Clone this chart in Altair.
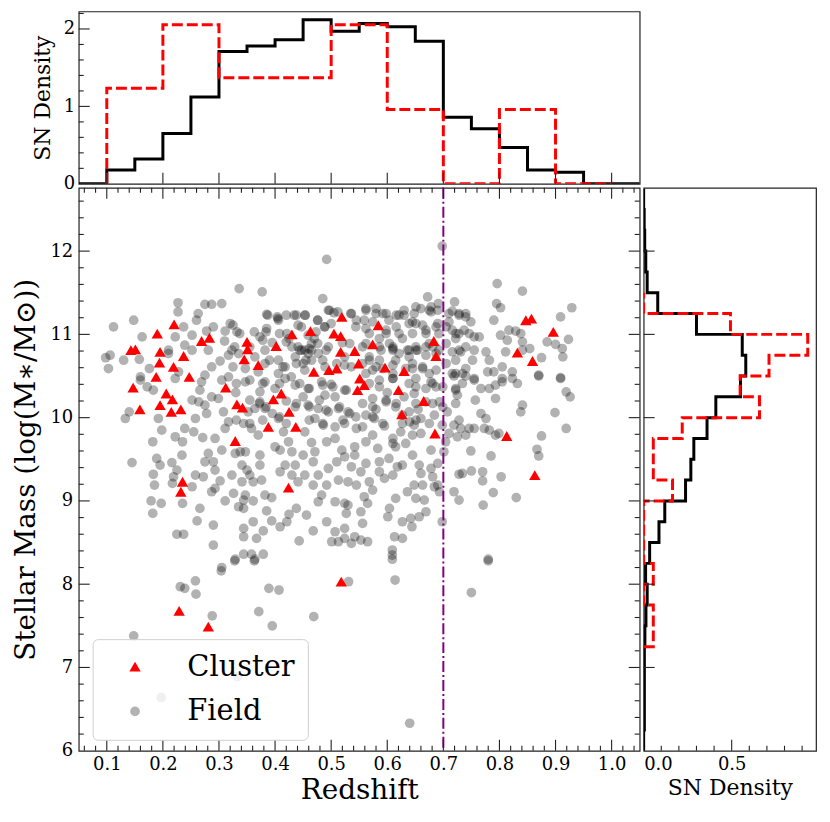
import altair as alt
import pandas as pd

FONT = "DejaVu Serif"

# ---------------- scatter data (redshift, log stellar mass) ----------------
field_upper_left = [
    (0.492, 11.90), (0.336, 11.55), (0.377, 11.51), (0.485, 11.43), (0.227, 11.38), (0.227, 11.27),
    (0.275, 11.36), (0.287, 11.36), (0.305, 11.37), (0.495, 11.29), (0.505, 11.26), (0.385, 11.24),
    (0.404, 11.21), (0.434, 11.23), (0.453, 11.23), (0.476, 11.17), (0.536, 11.25), (0.263, 11.25),
    (0.260, 11.17), (0.148, 11.17), (0.112, 11.09), (0.163, 10.97), (0.237, 11.09), (0.222, 10.97),
    (0.290, 11.09), (0.320, 11.13), (0.332, 11.03), (0.311, 11.04), (0.252, 10.99), (0.278, 11.04),
    (0.239, 10.87), (0.252, 10.81), (0.281, 10.81), (0.310, 10.92), (0.323, 10.81), (0.373, 10.97),
    (0.385, 11.07), (0.406, 11.17), (0.421, 11.01), (0.441, 11.11), (0.459, 10.99), (0.489, 11.09),
    (0.500, 11.13), (0.545, 11.17), (0.210, 10.81), (0.106, 10.75), (0.130, 10.69), (0.103, 10.59),
    (0.158, 10.70), (0.176, 10.59), (0.210, 10.77), (0.302, 10.68), (0.317, 10.75), (0.335, 10.77),
    (0.364, 10.73), (0.382, 10.81), (0.406, 10.69), (0.430, 10.85), (0.453, 10.81), (0.465, 10.89),
    (0.477, 10.77), (0.495, 10.85), (0.436, 10.73), (0.418, 10.61), (0.382, 10.65), (0.347, 10.59),
    (0.287, 10.61), (0.275, 10.51), (0.160, 10.49), (0.228, 10.55), (0.317, 10.49), (0.406, 10.53),
    (0.453, 10.57), (0.489, 10.61), (0.524, 10.73), (0.536, 10.61), (0.465, 10.69), (0.447, 10.81),
    (0.459, 10.77), (0.441, 10.85), (0.465, 10.81), (0.098, 10.72), (0.470, 10.95), (0.520, 10.90),
    (0.395, 10.90), (0.355, 10.85), (0.425, 10.95), (0.510, 10.65), (0.450, 10.65), (0.370, 10.55),
]

field_upper_right = [
    (0.698, 12.06), (0.796, 11.61), (0.841, 11.52), (0.929, 11.32), (0.909, 11.21), (0.795, 11.37),
    (0.802, 11.32), (0.790, 11.17), (0.672, 11.45), (0.678, 11.33), (0.691, 11.37), (0.678, 11.27),
    (0.720, 11.39), (0.716, 11.28), (0.728, 11.25), (0.740, 11.21), (0.749, 11.15), (0.710, 11.15),
    (0.716, 11.05), (0.728, 11.01), (0.746, 11.01), (0.755, 10.97), (0.764, 10.97), (0.722, 10.95),
    (0.651, 11.33), (0.630, 11.29), (0.621, 11.23), (0.592, 11.25), (0.580, 11.31), (0.562, 11.31),
    (0.559, 11.17), (0.574, 11.15), (0.603, 11.17), (0.645, 11.15), (0.663, 11.11), (0.690, 11.13),
    (0.692, 11.01), (0.669, 11.01), (0.645, 11.01), (0.621, 11.01), (0.598, 11.01), (0.568, 11.01),
    (0.562, 10.89), (0.586, 10.85), (0.610, 10.81), (0.627, 10.95), (0.654, 10.81), (0.675, 10.89),
    (0.692, 10.81), (0.669, 10.75), (0.639, 10.73), (0.615, 10.69), (0.586, 10.69), (0.568, 10.73),
    (0.574, 10.57), (0.610, 10.53), (0.645, 10.59), (0.675, 10.53), (0.687, 10.57), (0.716, 10.53),
    (0.716, 10.79), (0.731, 10.79), (0.722, 10.69), (0.755, 10.81), (0.752, 10.69), (0.740, 10.59),
    (0.776, 10.79), (0.782, 10.69), (0.779, 10.55), (0.790, 10.55), (0.805, 10.61), (0.823, 10.55),
    (0.817, 11.05), (0.829, 11.04), (0.838, 11.01), (0.841, 10.91), (0.841, 10.81), (0.814, 10.93),
    (0.802, 10.99), (0.811, 10.79), (0.854, 10.83), (0.875, 10.72), (0.885, 10.91), (0.900, 10.88),
    (0.912, 10.83), (0.923, 10.94), (0.913, 10.73), (0.909, 10.48), (0.870, 10.51), (0.755, 10.47),
    (0.805, 10.47), (0.610, 10.85), (0.604, 10.89), (0.639, 10.81), (0.651, 10.85), (0.681, 10.85),
    (0.687, 10.77), (0.621, 10.77), (0.586, 10.95), (0.663, 10.59), (0.633, 10.59), (0.592, 10.59),
    (0.556, 10.65), (0.562, 10.53),
]

field_core = [
    (0.387, 11.23), (0.405, 11.19), (0.420, 11.23), (0.438, 11.23), (0.454, 11.23), (0.476, 11.17),
    (0.497, 11.29), (0.512, 11.27), (0.535, 11.25), (0.562, 11.29), (0.580, 11.25), (0.598, 11.25),
    (0.616, 11.23), (0.630, 11.23), (0.648, 11.25), (0.660, 11.31), (0.675, 11.29), (0.690, 11.29),
    (0.710, 11.25), (0.728, 11.23), (0.740, 11.25),
    (0.325, 11.11), (0.337, 11.01), (0.363, 11.03), (0.384, 11.03), (0.408, 11.01), (0.447, 11.09),
    (0.473, 11.03), (0.488, 11.09), (0.544, 11.09), (0.562, 11.07), (0.598, 11.05), (0.616, 11.09),
    (0.639, 11.13), (0.651, 11.13), (0.669, 11.05), (0.687, 11.09), (0.705, 11.09), (0.722, 11.01),
    (0.737, 11.05),
    (0.328, 10.85), (0.378, 10.93), (0.420, 10.91), (0.444, 10.81), (0.461, 10.83), (0.476, 10.89),
    (0.491, 10.81), (0.533, 10.89), (0.556, 10.85), (0.589, 10.81), (0.610, 10.83), (0.636, 10.81),
    (0.651, 10.81), (0.669, 10.85), (0.705, 10.89), (0.728, 10.81), (0.740, 10.85),
    (0.325, 10.61), (0.390, 10.69), (0.414, 10.61), (0.438, 10.65), (0.455, 10.69), (0.485, 10.69),
    (0.524, 10.63), (0.568, 10.69), (0.580, 10.61), (0.610, 10.63), (0.645, 10.65), (0.663, 10.61),
    (0.705, 10.65), (0.722, 10.53), (0.734, 10.53),
    (0.331, 10.41), (0.355, 10.45), (0.378, 10.41), (0.408, 10.41), (0.429, 10.49), (0.444, 10.41),
    (0.461, 10.35), (0.485, 10.39), (0.503, 10.37), (0.527, 10.33), (0.568, 10.41), (0.586, 10.37),
    (0.610, 10.47), (0.639, 10.41), (0.651, 10.37), (0.681, 10.41), (0.699, 10.37), (0.722, 10.33),
    (0.355, 10.21), (0.372, 10.17), (0.384, 10.13), (0.438, 10.17), (0.461, 10.13), (0.479, 10.21),
    (0.491, 10.09), (0.515, 10.13), (0.533, 10.05), (0.556, 10.17), (0.574, 10.13), (0.598, 10.21),
    (0.616, 10.17), (0.651, 10.17), (0.681, 10.17), (0.699, 10.13), (0.722, 10.17),
    (0.331, 9.97), (0.355, 9.93), (0.378, 9.97), (0.408, 10.01), (0.420, 9.93), (0.461, 9.97),
    (0.485, 9.93), (0.521, 9.97), (0.544, 10.01), (0.574, 10.01), (0.592, 9.93), (0.627, 9.93),
    (0.651, 9.97), (0.675, 9.93), (0.728, 9.97),
]

field_lower_left = [
    (0.133, 9.99), (0.140, 10.07), (0.145, 9.46), (0.160, 10.45), (0.172, 10.37), (0.183, 10.33),
    (0.192, 9.99), (0.198, 9.85), (0.182, 9.71), (0.189, 9.51), (0.195, 9.43), (0.183, 9.32),
    (0.185, 9.19), (0.179, 9.00), (0.182, 8.85), (0.197, 8.97), (0.222, 9.77), (0.235, 9.71),
    (0.239, 9.87), (0.234, 9.55), (0.216, 9.46), (0.225, 9.37), (0.219, 9.29), (0.217, 9.21),
    (0.235, 8.97), (0.225, 8.60), (0.237, 8.60), (0.252, 9.17), (0.258, 9.31), (0.272, 9.29),
    (0.255, 9.83), (0.258, 9.99), (0.271, 9.76), (0.252, 10.21), (0.266, 10.33), (0.264, 10.19),
    (0.278, 10.05), (0.275, 10.15), (0.287, 10.25), (0.299, 10.23), (0.308, 10.07), (0.317, 9.95),
    (0.311, 9.87), (0.293, 9.75), (0.305, 9.61), (0.281, 9.57), (0.290, 9.47), (0.275, 9.47),
    (0.293, 9.37), (0.302, 9.24), (0.287, 9.11), (0.293, 9.15), (0.266, 8.91), (0.261, 8.76),
    (0.290, 8.71), (0.290, 8.47), (0.311, 9.00), (0.323, 9.31), (0.326, 9.09), (0.329, 9.57),
    (0.338, 9.59), (0.347, 9.59), (0.341, 9.43), (0.350, 9.37), (0.355, 9.31), (0.361, 9.23),
    (0.341, 9.23), (0.347, 9.07), (0.344, 9.01), (0.335, 8.93), (0.344, 8.91), (0.361, 9.00),
    (0.361, 8.75), (0.379, 8.64), (0.367, 8.55), (0.344, 8.67), (0.344, 8.57), (0.329, 8.30),
    (0.344, 8.36), (0.358, 8.36), (0.364, 8.30), (0.379, 8.36), (0.305, 8.20), (0.373, 9.43),
    (0.376, 9.25), (0.382, 9.07), (0.394, 9.04), (0.385, 8.88), (0.394, 8.76), (0.409, 8.69),
    (0.421, 8.75), (0.425, 8.84), (0.438, 8.91), (0.456, 8.83), (0.443, 8.52), (0.468, 8.64),
    (0.492, 8.75), (0.507, 8.63), (0.524, 8.67), (0.524, 8.55), (0.536, 8.49), (0.513, 8.51),
    (0.501, 8.51), (0.542, 8.57), (0.373, 9.55), (0.370, 9.79), (0.358, 9.87), (0.344, 9.93),
    (0.352, 10.07), (0.364, 10.11), (0.373, 10.19), (0.382, 10.11), (0.406, 9.99), (0.415, 9.83),
    (0.400, 9.65), (0.409, 9.61), (0.424, 9.71), (0.430, 9.59), (0.450, 9.55), (0.436, 9.43),
    (0.418, 9.43), (0.409, 9.35), (0.430, 9.31), (0.441, 9.23), (0.453, 9.31), (0.468, 9.19),
    (0.477, 9.31), (0.492, 9.19), (0.483, 9.07), (0.477, 8.99), (0.507, 8.99), (0.524, 8.97),
    (0.527, 8.85), (0.530, 8.95), (0.495, 9.39), (0.510, 9.47), (0.524, 9.53), (0.536, 9.41),
    (0.513, 9.25), (0.530, 9.23), (0.545, 9.19), (0.468, 9.47), (0.471, 9.59), (0.492, 9.71),
    (0.507, 9.75), (0.519, 9.61), (0.542, 9.65), (0.542, 9.55), (0.507, 9.89), (0.524, 9.93),
    (0.545, 9.87), (0.486, 9.91), (0.471, 9.99), (0.453, 9.83), (0.436, 10.13), (0.459, 10.15),
    (0.477, 10.11), (0.495, 10.07), (0.513, 10.11), (0.530, 10.07), (0.489, 10.27), (0.507, 10.25),
    (0.524, 10.33), (0.459, 10.35), (0.436, 10.39), (0.382, 10.43), (0.347, 10.43), (0.305, 10.45),
    (0.269, 10.43), (0.222, 10.47), (0.418, 10.47), (0.483, 10.43), (0.373, 10.31), (0.400, 10.35),
    (0.330, 10.30), (0.420, 10.20), (0.500, 10.40), (0.450, 10.25), (0.395, 10.05), (0.465, 9.70),
]

field_lower_right = [
    (0.562, 9.45), (0.553, 9.35), (0.568, 9.23), (0.574, 9.13), (0.559, 9.05), (0.565, 8.97),
    (0.553, 8.87), (0.556, 8.73), (0.553, 8.53), (0.565, 8.51), (0.609, 8.41), (0.609, 8.35),
    (0.613, 8.57), (0.627, 8.55), (0.601, 8.81), (0.604, 8.91), (0.627, 8.75), (0.644, 8.69),
    (0.642, 8.79), (0.657, 8.81), (0.669, 8.87), (0.698, 8.75), (0.615, 9.03), (0.636, 9.11),
    (0.651, 9.03), (0.666, 9.01), (0.648, 9.19), (0.663, 9.19), (0.660, 9.33), (0.657, 9.43),
    (0.678, 9.39), (0.681, 9.29), (0.690, 9.19), (0.693, 9.11), (0.684, 9.17), (0.690, 9.45),
    (0.678, 9.61), (0.645, 9.55), (0.627, 9.43), (0.618, 9.41), (0.610, 9.31), (0.595, 9.27),
    (0.586, 9.35), (0.586, 9.47), (0.603, 9.51), (0.583, 9.63), (0.562, 9.71), (0.574, 9.79),
    (0.610, 9.75), (0.624, 9.83), (0.645, 9.79), (0.660, 9.81), (0.648, 9.91), (0.660, 9.99),
    (0.639, 10.07), (0.615, 10.13), (0.598, 10.19), (0.574, 10.23), (0.562, 10.03), (0.577, 9.99),
    (0.556, 9.89), (0.610, 9.69), (0.615, 9.65), (0.633, 9.69), (0.627, 10.03), (0.586, 10.45),
    (0.610, 10.47), (0.651, 10.47), (0.678, 10.43), (0.687, 10.37), (0.669, 10.35), (0.648, 10.29),
    (0.669, 10.19), (0.693, 10.19), (0.707, 10.07), (0.684, 10.03), (0.698, 9.91), (0.704, 9.71),
    (0.701, 9.59), (0.719, 10.50), (0.734, 10.41), (0.725, 10.27), (0.722, 10.35), (0.755, 10.45),
    (0.740, 10.50), (0.767, 10.35), (0.782, 10.35), (0.793, 10.39), (0.805, 10.43), (0.823, 10.47),
    (0.832, 10.41), (0.793, 10.23), (0.757, 10.21), (0.838, 10.07), (0.841, 10.15), (0.870, 10.50),
    (0.909, 10.47), (0.919, 10.31), (0.926, 10.25), (0.899, 10.06), (0.919, 9.87), (0.875, 9.78),
    (0.867, 9.62), (0.870, 9.54), (0.767, 10.05), (0.776, 9.99), (0.719, 9.91), (0.731, 9.87),
    (0.746, 9.87), (0.755, 9.87), (0.740, 9.79), (0.725, 9.77), (0.710, 9.81), (0.773, 9.87),
    (0.782, 9.85), (0.793, 9.79), (0.799, 9.81), (0.749, 9.60), (0.785, 9.54), (0.734, 9.33),
    (0.728, 9.32), (0.750, 9.36), (0.770, 9.35), (0.770, 9.24), (0.803, 9.29), (0.719, 9.11),
    (0.728, 9.01), (0.789, 9.10), (0.830, 9.04), (0.771, 8.95), (0.780, 8.30), (0.600, 10.30),
    (0.630, 10.25), (0.580, 10.10), (0.655, 10.10), (0.595, 9.90), (0.640, 9.95),
]

field_sparse = [
    (0.304, 8.16), (0.328, 8.28), (0.363, 8.28), (0.231, 7.97), (0.239, 7.95), (0.258, 8.04),
    (0.259, 7.88), (0.389, 7.95), (0.407, 7.93), (0.531, 8.03), (0.614, 8.05), (0.780, 8.28),
    (0.750, 7.90), (0.288, 7.62), (0.371, 7.67), (0.395, 7.50), (0.469, 7.61), (0.148, 7.38),
    (0.333, 6.89), (0.197, 6.64), (0.640, 6.33), (0.609, 8.30),
]

cluster_points = [
    (0.190, 11.01), (0.220, 11.12), (0.151, 10.82), (0.143, 10.81), (0.195, 10.79), (0.194, 10.66),
    (0.219, 10.61), (0.237, 10.74), (0.269, 10.92), (0.283, 10.96), (0.350, 10.91), (0.351, 10.82),
    (0.345, 10.70), (0.370, 10.63), (0.402, 10.86), (0.430, 11.00), (0.463, 11.04), (0.505, 11.01),
    (0.519, 11.21), (0.517, 10.98), (0.517, 10.79), (0.542, 10.80), (0.549, 10.65), (0.469, 10.55),
    (0.496, 10.57), (0.510, 10.59), (0.188, 10.49), (0.247, 10.49), (0.584, 11.11), (0.574, 10.88),
    (0.596, 10.60), (0.630, 10.56), (0.683, 10.92), (0.687, 10.74), (0.551, 10.47), (0.847, 11.17),
    (0.857, 11.19), (0.896, 11.03), (0.832, 10.78), (0.859, 10.68), (0.147, 10.36), (0.159, 10.10),
    (0.206, 10.29), (0.217, 10.22), (0.195, 10.15), (0.215, 10.07), (0.232, 10.10), (0.312, 10.36),
    (0.332, 10.16), (0.342, 10.12), (0.397, 10.22), (0.411, 10.29), (0.425, 10.07), (0.388, 9.89),
    (0.437, 9.89), (0.329, 9.72), (0.235, 9.23), (0.232, 9.11), (0.424, 9.16), (0.547, 10.33),
    (0.559, 10.39), (0.620, 10.33), (0.665, 10.20), (0.626, 10.04), (0.685, 9.81), (0.813, 9.78),
    (0.863, 9.31), (0.518, 8.03), (0.229, 7.68), (0.281, 7.49),
]

redshift_cut = [0.7]
legend_labels = ["Cluster", "Field"]

# ---------------- histograms (SN density) ----------------
z_edges_field = [0.05, 0.10, 0.15, 0.20, 0.25, 0.30, 0.35, 0.40, 0.45, 0.50, 0.55, 0.60,
                 0.65, 0.70, 0.75, 0.80, 0.85, 0.90, 0.95, 1.05]
z_density_field = [0.0, 0.18, 0.32, 0.65, 1.12, 1.71, 1.78, 1.86, 2.12, 1.97, 2.07, 2.03,
                   1.84, 0.86, 0.71, 0.47, 0.18, 0.15, 0.0]
z_edges_cluster = [0.1, 0.2, 0.3, 0.4, 0.5, 0.6, 0.7, 0.8, 0.9, 1.0]
z_density_cluster = [1.233, 2.055, 1.370, 1.370, 2.055, 0.959, 0.0, 0.959, 0.0]

m_edges_field = [6.0, 6.25, 6.5, 6.75, 7.0, 7.25, 7.5, 7.75, 8.0, 8.25, 8.5, 8.75, 9.0, 9.25,
                 9.5, 9.75, 10.0, 10.25, 10.5, 10.75, 11.0, 11.25, 11.5, 11.75, 12.0, 12.25,
                 12.5, 12.75]
m_density_field = [0.0, 0.004, 0.004, 0.004, 0.004, 0.007, 0.013, 0.02, 0.011, 0.034, 0.087,
                   0.12, 0.238, 0.268, 0.285, 0.36, 0.41, 0.55, 0.58, 0.56, 0.30, 0.08, 0.02,
                   0.012, 0.006, 0.003, 0.0]
m_edges_cluster = [7.25, 7.5, 7.75, 8.0, 8.25, 8.5, 8.75, 9.0, 9.25, 9.5, 9.75, 10.0, 10.25,
                   10.5, 10.75, 11.0, 11.25, 11.5]
m_density_cluster = [0.0548, 0.0548, 0.0, 0.0548, 0.0, 0.0, 0.0, 0.164, 0.0548, 0.0548, 0.219,
                     0.658, 0.548, 0.712, 0.932, 0.493, 0.0]

# ---------------- tick positions ----------------
z_major_ticks = [0.1, 0.2, 0.3, 0.4, 0.5, 0.6, 0.7, 0.8, 0.9, 1.0]
z_minor_ticks = [round(0.06 + 0.02 * i, 2) for i in range(50)]
z_minor_ticks = [v for v in z_minor_ticks if abs(v * 10 - round(v * 10)) > 1e-6]
m_major_ticks = [7, 8, 9, 10, 11, 12]
m_minor_ticks = [round(6.2 + 0.2 * i, 1) for i in range(33)]
m_minor_ticks = [v for v in m_minor_ticks if abs(v - round(v)) > 1e-6]
top_major_ticks = [1.0, 2.0]
top_minor_ticks = [0.2, 0.4, 0.6, 0.8, 1.2, 1.4, 1.6, 1.8, 2.2]
right_major_ticks = [0.5]
right_minor_ticks = [0.1, 0.2, 0.3, 0.4, 0.6, 0.7, 0.8, 0.9]


def pts_frame(kind, *groups):
    rows = []
    for g in groups:
        rows.extend(g)
    df = pd.DataFrame(rows, columns=["z", "m"])
    df["type"] = kind
    return df


def step_frame(edges, vals):
    rows = [(edges[0], 0.0)]
    for i, v in enumerate(vals):
        rows.append((edges[i], v))
        rows.append((edges[i + 1], v))
    rows.append((edges[-1], 0.0))
    df = pd.DataFrame(rows, columns=["edge", "val"])
    df["order"] = range(len(df))
    return df


points_df = pd.concat([
    pts_frame("Field", field_upper_left, field_upper_right, field_core, field_lower_left,
              field_lower_right, field_sparse),
    pts_frame("Cluster", cluster_points),
], ignore_index=True)
points_df["draw"] = range(len(points_df))
cut_df = pd.DataFrame({"z": redshift_cut})

top_field = step_frame(z_edges_field, z_density_field)
top_cluster = step_frame(z_edges_cluster, z_density_cluster)
right_field = step_frame(m_edges_field, m_density_field)
right_cluster = step_frame(m_edges_cluster, m_density_cluster)

# ---------------- layout sizes ----------------
W, H = 563, 565
TOP_H = 173
RIGHT_W = 173
TICK = "#222222"
MAJOR, MINOR = 11, 5

x_scale = alt.Scale(domain=[0.05, 1.05], nice=False, zero=False)
y_scale = alt.Scale(domain=[6.0, 12.76], nice=False, zero=False)
top_scale = alt.Scale(domain=[0.0, 2.226], nice=False, zero=False)
right_scale = alt.Scale(domain=[0.0, 0.979], nice=False, zero=False)


def pos(channel, field, scale, hide_axis):
    kw = {"scale": scale}
    if hide_axis:
        kw["axis"] = None
    return channel(field, **kw)


def x_ticks(values, scale, y0, y1, hide_axis=False):
    """Inward tick segments at x-positions given by the scale."""
    return alt.Chart(pd.DataFrame({"v": values})).mark_rule(color=TICK, strokeWidth=1.1).encode(
        x=pos(alt.X, "v:Q", scale, hide_axis), y=alt.value(y0), y2=alt.value(y1))


def y_ticks(values, scale, x0, x1, hide_axis=False):
    """Inward tick segments at y-positions given by the scale."""
    return alt.Chart(pd.DataFrame({"v": values})).mark_rule(color=TICK, strokeWidth=1.1).encode(
        y=pos(alt.Y, "v:Q", scale, hide_axis), x=alt.value(x0), x2=alt.value(x1))


# ---------------- main scatter panel ----------------
points_layer = alt.Chart(points_df).mark_point(filled=True, strokeWidth=0).encode(
    x=alt.X("z:Q", scale=x_scale, axis=alt.Axis(
        orient="bottom", values=z_major_ticks, format=".1f",
        ticks=False, tickSize=0, domain=False, grid=False, labelPadding=5, labelFontSize=18,
        title="Redshift", titleFontSize=28, titlePadding=3)),
    y=alt.Y("m:Q", scale=y_scale, axis=alt.Axis(
        orient="left", values=[6, 7, 8, 9, 10, 11, 12], format="d",
        ticks=False, tickSize=0, domain=False, grid=False, labelPadding=6, labelFontSize=18,
        title="Stellar Mass (log(M\u2217/M\u2299))", titleFontSize=28, titlePadding=9)),
    color=alt.Color("type:N", scale=alt.Scale(domain=legend_labels, range=["#ff0000", "#000000"]),
                    legend=alt.Legend(
                        title=None, orient="none", legendX=14, legendY=630, direction="vertical",
                        labelFont=FONT, labelFontSize=29, labelColor="black",
                        symbolStrokeWidth=0, padding=13, rowPadding=15, labelOffset=38,
                        symbolOffset=15, strokeColor="#d0d0d0",
                        fillColor="rgba(255,255,255,0.8)", cornerRadius=5)),
    shape=alt.Shape("type:N", scale=alt.Scale(domain=legend_labels,
                                              range=["triangle-up", "circle"])),
    opacity=alt.Opacity("type:N", scale=alt.Scale(domain=legend_labels, range=[1.0, 0.3])),
    size=alt.Size("type:N", scale=alt.Scale(domain=legend_labels, range=[130, 95])),
    order=alt.Order("draw:Q"),
)

cut_layer = alt.Chart(cut_df).mark_rule(
    color="#800080", strokeWidth=2, strokeDash=[11, 3, 2, 3]
).encode(x=alt.X("z:Q", scale=x_scale))

main = alt.layer(
    points_layer, cut_layer,
    x_ticks(z_major_ticks, x_scale, H, H - MAJOR), x_ticks(z_minor_ticks, x_scale, H, H - MINOR),
    x_ticks(z_major_ticks, x_scale, 0, MAJOR), x_ticks(z_minor_ticks, x_scale, 0, MINOR),
    y_ticks(m_major_ticks, y_scale, 0, MAJOR), y_ticks(m_minor_ticks, y_scale, 0, MINOR),
    y_ticks(m_major_ticks, y_scale, W, W - MAJOR), y_ticks(m_minor_ticks, y_scale, W, W - MINOR),
).properties(width=W, height=H)

# ---------------- top histogram ----------------
top_black = alt.Chart(top_field).mark_line(
    color="black", strokeWidth=3, clip=True, strokeJoin="miter", strokeCap="butt"
).encode(
    x=alt.X("edge:Q", scale=x_scale, axis=None),
    y=alt.Y("val:Q", scale=top_scale, axis=alt.Axis(
        orient="left", values=[0, 1, 2], format="d", ticks=False, tickSize=0, domain=False,
        grid=False, labelPadding=4, labelFontSize=18, title="SN Density", titleFontSize=22,
        titlePadding=9)),
    order="order:Q",
)
top_red = alt.Chart(top_cluster).mark_line(
    color="#ff0000", strokeWidth=3, strokeDash=[11, 4], clip=True, strokeJoin="miter",
    strokeCap="butt"
).encode(
    x=alt.X("edge:Q", scale=x_scale, axis=None),
    y=alt.Y("val:Q", scale=top_scale),
    order="order:Q",
)
top = alt.layer(
    top_black, top_red,
    x_ticks(z_major_ticks, x_scale, TOP_H, TOP_H - MAJOR, hide_axis=True),
    y_ticks(top_major_ticks, top_scale, 0, MAJOR), y_ticks(top_minor_ticks, top_scale, 0, MINOR),
).properties(width=W, height=TOP_H)

# ---------------- right histogram ----------------
right_black = alt.Chart(right_field).mark_line(
    color="black", strokeWidth=3, clip=True, strokeJoin="miter", strokeCap="butt"
).encode(
    x=alt.X("val:Q", scale=right_scale, axis=alt.Axis(
        orient="bottom", values=[0.0, 0.5], format=".1f", ticks=False, tickSize=0, domain=False,
        grid=False, labelPadding=5, labelFontSize=18, title="SN Density", titleFontSize=22,
        titlePadding=4)),
    y=alt.Y("edge:Q", scale=y_scale, axis=None),
    order="order:Q",
)
right_red = alt.Chart(right_cluster).mark_line(
    color="#ff0000", strokeWidth=3, strokeDash=[11, 4], clip=True, strokeJoin="miter",
    strokeCap="butt"
).encode(
    x=alt.X("val:Q", scale=right_scale),
    y=alt.Y("edge:Q", scale=y_scale, axis=None),
    order="order:Q",
)
right = alt.layer(
    right_black, right_red,
    x_ticks(right_major_ticks, right_scale, H, H - MAJOR),
    x_ticks(right_minor_ticks, right_scale, H, H - MINOR),
    y_ticks(m_major_ticks, y_scale, 0, MAJOR, hide_axis=True),
).properties(width=RIGHT_W, height=H)

bottom_row = alt.hconcat(main, right, spacing=4, bounds="flush")
chart = alt.vconcat(top, bottom_row, spacing=4, bounds="flush").properties(
    padding={"left": 4, "top": 1, "right": 5, "bottom": 5}
).configure_view(
    stroke="#222222", strokeWidth=1.2
).configure_axis(
    labelFont=FONT, titleFont=FONT, labelColor="black", titleColor="black",
    titleFontWeight="normal"
).configure_legend(
    labelFont=FONT
)

chart.save("out.html", embed_options={"renderer": "svg", "actions": False})
